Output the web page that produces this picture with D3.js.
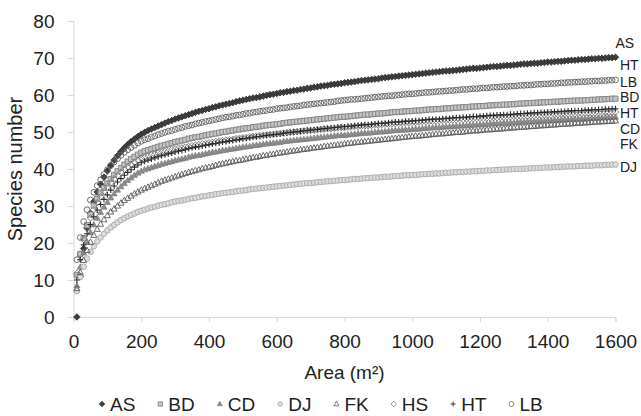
<!DOCTYPE html>
<html><head><meta charset="utf-8">
<script src="https://cdn.jsdelivr.net/npm/d3@7"></script>
<style>html,body{margin:0;padding:0;background:#fff;} svg{display:block;font-family:"Liberation Sans",Arial,sans-serif;}</style>
</head><body>
<svg id="chart" width="641" height="416"></svg>
<script>
const areas = [10,20,30,40,50,60,70,80,90,100,110,120,130,140,150,160,170,180,190,200,
210,220,230,240,250,260,270,280,290,300,310,320,330,340,350,360,370,380,390,400,
410,420,430,440,450,460,470,480,490,500,510,520,530,540,550,560,570,580,590,600,
610,620,630,640,650,660,670,680,690,700,710,720,730,740,750,760,770,780,790,800,
810,820,830,840,850,860,870,880,890,900,910,920,930,940,950,960,970,980,990,1000,
1010,1020,1030,1040,1050,1060,1070,1080,1090,1100,1110,1120,1130,1140,1150,1160,1170,1180,1190,1200,
1210,1220,1230,1240,1250,1260,1270,1280,1290,1300,1310,1320,1330,1340,1350,1360,1370,1380,1390,1400,
1410,1420,1430,1440,1450,1460,1470,1480,1490,1500,1510,1520,1530,1540,1550,1560,1570,1580,1590,1600];

const AS = [0,11,18.5,24,28,31.2,33.8,35.9,37.8,39.5,
41.0,42.4,43.6,44.7,45.7,46.6,47.4,48.1,48.8,49.4,
49.9,50.4,50.8,51.2,51.6,52.0,52.4,52.8,53.1,53.5,
53.8,54.1,54.4,54.7,55.0,55.3,55.6,55.8,56.1,56.3,
56.6,56.8,57.1,57.3,57.5,57.7,57.9,58.2,58.4,58.6,
58.8,59.0,59.2,59.3,59.5,59.7,59.9,60.1,60.2,60.4,
60.6,60.7,60.9,61.0,61.2,61.3,61.5,61.6,61.8,61.9,
62.1,62.2,62.4,62.5,62.6,62.8,62.9,63.0,63.1,63.3,
63.4,63.5,63.6,63.8,63.9,64.0,64.1,64.2,64.3,64.4,
64.6,64.7,64.8,64.9,65.0,65.1,65.2,65.3,65.4,65.5,
65.6,65.7,65.8,65.9,66.0,66.1,66.2,66.3,66.4,66.5,
66.5,66.6,66.7,66.8,66.9,67.0,67.1,67.2,67.2,67.3,
67.4,67.5,67.6,67.7,67.7,67.8,67.9,68.0,68.0,68.1,
68.2,68.3,68.4,68.4,68.5,68.6,68.6,68.7,68.8,68.9,
68.9,69.0,69.1,69.1,69.2,69.3,69.4,69.4,69.5,69.6,
69.6,69.7,69.8,69.8,69.9,69.9,70.0,70.1,70.1,70.2];

const BD = [11.3,17.0,21.3,24.8,27.7,30.1,32.0,33.6,34.9,36.1,
37.3,38.4,39.4,40.3,41.2,42.0,42.7,43.3,43.9,44.4,
44.8,45.1,45.4,45.7,46.0,46.3,46.5,46.8,47.0,47.3,
47.5,47.7,47.9,48.2,48.4,48.6,48.7,48.9,49.1,49.3,
49.5,49.6,49.8,50.0,50.1,50.3,50.4,50.6,50.7,50.9,
51.0,51.1,51.3,51.4,51.5,51.7,51.8,51.9,52.0,52.1,
52.2,52.4,52.5,52.6,52.7,52.8,52.9,53.0,53.1,53.2,
53.3,53.4,53.5,53.6,53.7,53.8,53.9,54.0,54.1,54.1,
54.2,54.3,54.4,54.5,54.6,54.7,54.7,54.8,54.9,55.0,
55.0,55.1,55.2,55.3,55.4,55.4,55.5,55.6,55.6,55.7,
55.8,55.8,55.9,56.0,56.1,56.1,56.2,56.2,56.3,56.4,
56.4,56.5,56.6,56.6,56.7,56.7,56.8,56.9,56.9,57.0,
57.0,57.1,57.2,57.2,57.3,57.3,57.4,57.4,57.5,57.5,
57.6,57.7,57.7,57.8,57.8,57.9,57.9,58.0,58.0,58.1,
58.1,58.2,58.2,58.3,58.3,58.4,58.4,58.5,58.5,58.5,
58.6,58.6,58.7,58.7,58.8,58.8,58.9,58.9,59.0,59.0];

const CD = [8.5,13.5,17.3,20.3,22.8,24.9,26.7,28.3,29.7,31.0,
32.2,33.3,34.3,35.2,36.1,36.9,37.6,38.3,38.9,39.4,
39.8,40.1,40.4,40.7,41.0,41.3,41.5,41.8,42.0,42.3,
42.5,42.7,42.9,43.2,43.4,43.6,43.7,43.9,44.1,44.3,
44.5,44.6,44.8,45.0,45.1,45.3,45.4,45.6,45.7,45.9,
46.0,46.1,46.3,46.4,46.5,46.7,46.8,46.9,47.0,47.1,
47.2,47.4,47.5,47.6,47.7,47.8,47.9,48.0,48.1,48.2,
48.3,48.4,48.5,48.6,48.7,48.8,48.9,49.0,49.1,49.1,
49.2,49.3,49.4,49.5,49.6,49.7,49.7,49.8,49.9,50.0,
50.0,50.1,50.2,50.3,50.4,50.4,50.5,50.6,50.6,50.7,
50.8,50.8,50.9,51.0,51.1,51.1,51.2,51.2,51.3,51.4,
51.4,51.5,51.6,51.6,51.7,51.7,51.8,51.9,51.9,52.0,
52.0,52.1,52.2,52.2,52.3,52.3,52.4,52.4,52.5,52.5,
52.6,52.7,52.7,52.8,52.8,52.9,52.9,53.0,53.0,53.1,
53.1,53.2,53.2,53.3,53.3,53.4,53.4,53.5,53.5,53.5,
53.6,53.6,53.7,53.7,53.8,53.8,53.9,53.9,54.0,54.0];

const DJ = [7.0,10.8,13.6,15.8,17.6,19.1,20.4,21.5,22.5,23.4,
24.2,24.9,25.6,26.2,26.7,27.2,27.6,28.0,28.4,28.7,
29.0,29.3,29.6,29.8,30.1,30.3,30.5,30.7,31.0,31.2,
31.4,31.5,31.7,31.9,32.1,32.2,32.4,32.6,32.7,32.9,
33.0,33.2,33.3,33.5,33.6,33.7,33.8,34.0,34.1,34.2,
34.3,34.5,34.6,34.7,34.8,34.9,35.0,35.1,35.2,35.3,
35.4,35.5,35.6,35.7,35.8,35.9,36.0,36.1,36.2,36.2,
36.3,36.4,36.5,36.6,36.7,36.7,36.8,36.9,37.0,37.0,
37.1,37.2,37.3,37.3,37.4,37.5,37.5,37.6,37.7,37.7,
37.8,37.9,37.9,38.0,38.1,38.1,38.2,38.3,38.3,38.4,
38.4,38.5,38.6,38.6,38.7,38.7,38.8,38.8,38.9,39.0,
39.0,39.1,39.1,39.2,39.2,39.3,39.3,39.4,39.4,39.5,
39.5,39.6,39.6,39.7,39.7,39.8,39.8,39.9,39.9,40.0,
40.0,40.0,40.1,40.1,40.2,40.2,40.3,40.3,40.4,40.4,
40.4,40.5,40.5,40.6,40.6,40.7,40.7,40.7,40.8,40.8,
40.9,40.9,40.9,41.0,41.0,41.0,41.1,41.1,41.2,41.2];

const FK = [7.7,12.0,15.3,18.0,20.2,22.1,23.7,25.1,26.3,27.4,
28.4,29.2,30.0,30.8,31.5,32.1,32.7,33.3,33.8,34.3,
34.7,35.1,35.5,35.9,36.3,36.7,37.0,37.3,37.6,37.9,
38.2,38.5,38.8,39.1,39.3,39.6,39.8,40.1,40.3,40.5,
40.7,41.0,41.2,41.4,41.6,41.8,42.0,42.2,42.3,42.5,
42.7,42.9,43.1,43.2,43.4,43.6,43.7,43.9,44.0,44.2,
44.3,44.5,44.6,44.8,44.9,45.0,45.2,45.3,45.4,45.6,
45.7,45.8,45.9,46.1,46.2,46.3,46.4,46.5,46.6,46.8,
46.9,47.0,47.1,47.2,47.3,47.4,47.5,47.6,47.7,47.8,
47.9,48.0,48.1,48.2,48.3,48.4,48.5,48.6,48.7,48.8,
48.9,48.9,49.0,49.1,49.2,49.3,49.4,49.5,49.5,49.6,
49.7,49.8,49.9,49.9,50.0,50.1,50.2,50.3,50.3,50.4,
50.5,50.6,50.6,50.7,50.8,50.8,50.9,51.0,51.1,51.1,
51.2,51.3,51.3,51.4,51.5,51.5,51.6,51.7,51.7,51.8,
51.9,51.9,52.0,52.1,52.1,52.2,52.2,52.3,52.4,52.4,
52.5,52.5,52.6,52.7,52.7,52.8,52.8,52.9,52.9,53.0];

const HS = [11.8,17.0,21.0,24.2,26.8,29.0,30.9,32.5,33.9,35.2,
36.3,37.3,38.2,39.1,39.9,40.6,41.2,41.8,42.4,42.9,
43.2,43.5,43.8,44.0,44.3,44.5,44.7,44.9,45.2,45.4,
45.6,45.7,45.9,46.1,46.3,46.4,46.6,46.8,46.9,47.1,
47.2,47.4,47.5,47.7,47.8,47.9,48.0,48.2,48.3,48.4,
48.5,48.7,48.8,48.9,49.0,49.1,49.2,49.3,49.4,49.5,
49.6,49.7,49.8,49.9,50.0,50.1,50.2,50.3,50.4,50.4,
50.5,50.6,50.7,50.8,50.9,50.9,51.0,51.1,51.2,51.2,
51.3,51.4,51.5,51.5,51.6,51.7,51.7,51.8,51.9,51.9,
52.0,52.1,52.1,52.2,52.3,52.3,52.4,52.5,52.5,52.6,
52.6,52.7,52.8,52.8,52.9,52.9,53.0,53.0,53.1,53.2,
53.2,53.3,53.3,53.4,53.4,53.5,53.5,53.6,53.6,53.7,
53.7,53.8,53.8,53.9,53.9,54.0,54.0,54.1,54.1,54.2,
54.2,54.2,54.3,54.3,54.4,54.4,54.5,54.5,54.6,54.6,
54.6,54.7,54.7,54.8,54.8,54.9,54.9,54.9,55.0,55.0,
55.1,55.1,55.1,55.2,55.2,55.2,55.3,55.3,55.4,55.4];

const HT = [10.0,15.5,19.5,22.5,25.0,27.1,28.9,30.4,31.8,33.0,
34.3,35.4,36.5,37.4,38.3,39.1,39.8,40.5,41.1,41.7,
42.1,42.4,42.7,43.0,43.3,43.6,43.8,44.1,44.3,44.6,
44.8,45.0,45.2,45.5,45.7,45.9,46.0,46.2,46.4,46.6,
46.8,46.9,47.1,47.3,47.4,47.6,47.7,47.9,48.0,48.2,
48.3,48.4,48.6,48.7,48.8,49.0,49.1,49.2,49.3,49.4,
49.5,49.7,49.8,49.9,50.0,50.1,50.2,50.3,50.4,50.5,
50.6,50.7,50.8,50.9,51.0,51.1,51.2,51.3,51.4,51.4,
51.5,51.6,51.7,51.8,51.9,52.0,52.0,52.1,52.2,52.3,
52.3,52.4,52.5,52.6,52.7,52.7,52.8,52.9,52.9,53.0,
53.1,53.1,53.2,53.3,53.4,53.4,53.5,53.5,53.6,53.7,
53.7,53.8,53.9,53.9,54.0,54.0,54.1,54.2,54.2,54.3,
54.3,54.4,54.5,54.5,54.6,54.6,54.7,54.7,54.8,54.8,
54.9,55.0,55.0,55.1,55.1,55.2,55.2,55.3,55.3,55.4,
55.4,55.5,55.5,55.6,55.6,55.7,55.7,55.8,55.8,55.8,
55.9,55.9,56.0,56.0,56.1,56.1,56.2,56.2,56.3,56.3];

const LB = [15.5,21.5,25.8,29.0,31.6,33.7,35.5,37.1,38.5,39.8,
40.9,41.9,42.8,43.7,44.5,45.2,45.8,46.4,47.0,47.5,
47.9,48.2,48.6,48.9,49.3,49.6,49.9,50.2,50.4,50.7,
51.0,51.2,51.5,51.7,51.9,52.2,52.4,52.6,52.8,53.0,
53.2,53.4,53.6,53.8,54.0,54.1,54.3,54.5,54.6,54.8,
55.0,55.1,55.3,55.4,55.6,55.7,55.8,56.0,56.1,56.3,
56.4,56.5,56.6,56.8,56.9,57.0,57.1,57.3,57.4,57.5,
57.6,57.7,57.8,57.9,58.0,58.1,58.2,58.4,58.5,58.6,
58.7,58.8,58.8,58.9,59.0,59.1,59.2,59.3,59.4,59.5,
59.6,59.7,59.8,59.8,59.9,60.0,60.1,60.2,60.3,60.3,
60.4,60.5,60.6,60.7,60.7,60.8,60.9,61.0,61.0,61.1,
61.2,61.2,61.3,61.4,61.5,61.5,61.6,61.7,61.7,61.8,
61.9,61.9,62.0,62.1,62.1,62.2,62.3,62.3,62.4,62.4,
62.5,62.6,62.6,62.7,62.7,62.8,62.9,62.9,63.0,63.0,
63.1,63.1,63.2,63.3,63.3,63.4,63.4,63.5,63.5,63.6,
63.6,63.7,63.7,63.8,63.8,63.9,63.9,64.0,64.0,64.1];

const seriesNames = ["AS","BD","CD","DJ","FK","HS","HT","LB"];
const seriesValues = [AS, BD, CD, DJ, FK, HS, HT, LB];
const xTicks = [0,200,400,600,800,1000,1200,1400,1600];
const yTicks = [0,10,20,30,40,50,60,70,80];
const endLabels = ["AS","HT","LB","BD","HT","CD","FK","DJ"];
const endLabelValues = [73.9,68.1,63.6,59.4,55.1,50.9,46.6,40.4];
const xTitle = "Area (m²)";
const yTitle = "Species number";

// marker styles (presentation only)
const markerStyle = {
  AS: {d:"M0,-3.3L3.3,0L0,3.3L-3.3,0Z", fill:"#3d3d3d", stroke:"#303030", sw:0.8},
  BD: {d:"M-2.6,-2.6H2.6V2.6H-2.6Z", fill:"#c4c4c4", stroke:"#808080", sw:0.9},
  CD: {d:"M0,-3.3L3,2.1L-3,2.1Z", fill:"#8e8e8e", stroke:"#7a7a7a", sw:0.7},
  DJ: {d:"M2.8,0A2.8,2.8 0 1 1 -2.8,0A2.8,2.8 0 1 1 2.8,0Z", fill:"#dcdcdc", stroke:"#a8a8a8", sw:0.9},
  FK: {d:"M0,-3.3L3,2.1L-3,2.1Z", fill:"none", stroke:"#5a5a5a", sw:0.9},
  HS: {d:"M0,-3.3L3.3,0L0,3.3L-3.3,0Z", fill:"none", stroke:"#777", sw:0.9},
  HT: {d:"M-2.9,0H2.9M0,-2.9V2.9", fill:"none", stroke:"#2a2a2a", sw:1.1},
  LB: {d:"M2.9,0A2.9,2.9 0 1 1 -2.9,0A2.9,2.9 0 1 1 2.9,0Z", fill:"none", stroke:"#5e5e5e", sw:0.9}
};

const svg = d3.select("#chart");
const x = d3.scaleLinear().domain([0,1600]).range([73.5,615.5]);
const y = d3.scaleLinear().domain([0,80]).range([317,21]);
const textColor = "#222";
const axisColor = "#d9d9d9";

// y axis
const gy = svg.append("g").attr("transform","translate(73.5,0)")
  .call(d3.axisLeft(y).tickValues(yTicks).tickSize(6).tickPadding(13).tickFormat(d3.format("d")));
gy.select(".domain").attr("stroke",axisColor);
gy.selectAll(".tick line").attr("stroke",axisColor);
gy.selectAll(".tick text").attr("fill",textColor).style("font-size","19px")
  .style("font-family","'Liberation Sans',Arial,sans-serif");

// x axis
const gx = svg.append("g").attr("transform","translate(0,317)")
  .call(d3.axisBottom(x).tickValues(xTicks).tickSize(5).tickPadding(13).tickFormat(d3.format("d")));
gx.select(".domain").attr("stroke",axisColor);
gx.selectAll(".tick line").attr("stroke",axisColor);
gx.selectAll(".tick text").attr("fill",textColor).style("font-size","19px")
  .style("font-family","'Liberation Sans',Arial,sans-serif");

// titles
svg.append("text").attr("x",344.5).attr("y",379).attr("text-anchor","middle")
  .attr("fill",textColor).style("font-size","19px").text(xTitle);
svg.append("text").attr("transform","translate(22,169) rotate(-90)").attr("text-anchor","middle")
  .attr("fill",textColor).style("font-size","20px").text(yTitle);

// series
const plot = svg.append("g");
seriesNames.forEach((name, si) => {
  const st = markerStyle[name];
  const pts = areas.map((a,i)=>({a, v: seriesValues[si][i]}));
  plot.append("g").selectAll("path").data(pts).join("path")
    .attr("transform", d => `translate(${x(d.a)},${y(d.v)})`)
    .attr("d", st.d).attr("fill", st.fill).attr("stroke", st.stroke).attr("stroke-width", st.sw);
});

// end labels
svg.append("g").selectAll("text").data(endLabels).join("text")
  .attr("x", (d,i) => x(1600) + (i===0 ? 0 : 4.5))
  .attr("y", (d,i) => y(endLabelValues[i]))
  .attr("dy","0.35em").attr("fill",textColor).style("font-size","14px").text(d=>d);

// legend
const leg = svg.append("g").attr("transform","translate(0,404)");
let cx = 98;
seriesNames.forEach(name => {
  const st = markerStyle[name];
  const item = leg.append("g").attr("transform",`translate(${cx},0)`);
  item.append("path").attr("transform","translate(4,0) scale(0.85)").attr("d",st.d)
    .attr("fill",st.fill).attr("stroke",st.stroke).attr("stroke-width",st.sw);
  const t = item.append("text").attr("x",12).attr("dy","0.35em").attr("fill",textColor)
    .style("font-size","19px").text(name);
  cx += 12 + t.node().getComputedTextLength() + 21;
});
</script>
</body></html>
